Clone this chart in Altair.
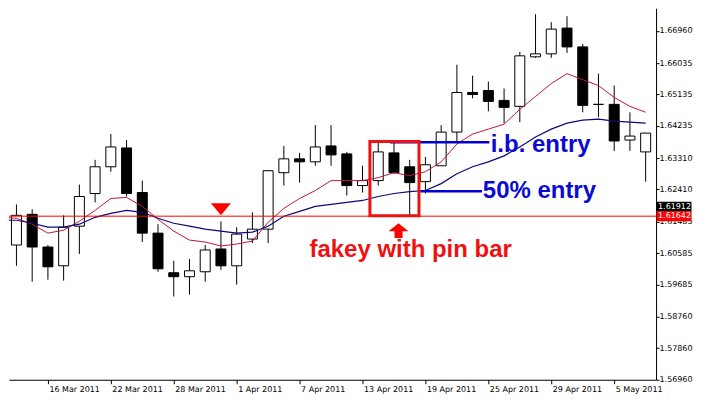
import altair as alt
import pandas as pd

# ---- candle data (bar index k = 0 .. 40, 14 Mar 2011 .. 9 May 2011) ----
opens = [1.60815, 1.61696, 1.60758, 1.60219, 1.61355, 1.62292, 1.63059, 1.63599, 1.62321, 1.61156,
         1.60020, 1.59906, 1.60048, 1.60701, 1.60219, 1.60986, 1.61270, 1.62889, 1.63287, 1.63201,
         1.63656, 1.63429, 1.62520, 1.62662, 1.63457, 1.63059, 1.62633, 1.63088, 1.64054, 1.65190,
         1.65247, 1.64963, 1.64792, 1.66213, 1.66298, 1.67037, 1.66497, 1.64849, 1.64849, 1.63826, 1.63486]
highs = [1.61980, 1.61838, 1.60815, 1.61667, 1.62548, 1.63258, 1.63997, 1.63826, 1.62662, 1.61412,
         1.60361, 1.60417, 1.60815, 1.61497, 1.61326, 1.61753, 1.62960, 1.63656, 1.63457, 1.64253,
         1.64253, 1.63486, 1.63088, 1.63798, 1.63741, 1.63258, 1.63343, 1.64253, 1.65986, 1.65673,
         1.65503, 1.65304, 1.66355, 1.67435, 1.67207, 1.67378, 1.66582, 1.65730, 1.65389, 1.64622, 1.64025]
lows = [1.60219, 1.59764, 1.59821, 1.59792, 1.60559, 1.62037, 1.62917, 1.62207, 1.60900, 1.60048,
        1.59338, 1.59395, 1.59764, 1.60105, 1.59679, 1.60872, 1.60872, 1.62520, 1.62605, 1.63088,
        1.63088, 1.62236, 1.62321, 1.62520, 1.62860, 1.61639, 1.62292, 1.63088, 1.63798, 1.65020,
        1.64650, 1.64309, 1.64338, 1.66184, 1.66184, 1.66326, 1.64622, 1.64480, 1.63513, 1.63514, 1.62633]
closes = [1.61667, 1.60758, 1.60190, 1.61326, 1.62207, 1.63059, 1.63628, 1.62292, 1.61156, 1.60133,
          1.59906, 1.60076, 1.60673, 1.60219, 1.61128, 1.61270, 1.62946, 1.63287, 1.63201, 1.63628,
          1.63400, 1.62520, 1.62662, 1.63486, 1.62889, 1.62605, 1.63116, 1.64054, 1.65190, 1.65133,
          1.64934, 1.64764, 1.66241, 1.66298, 1.67008, 1.66497, 1.64821, 1.64849, 1.63798, 1.63940, 1.64025]

# ---- moving averages (k = -1 .. 40) ----
ma_fast = [1.61610, 1.61582, 1.61412, 1.61156, 1.61241, 1.61497, 1.61809, 1.62150, 1.62179, 1.61923,
           1.61554, 1.61213, 1.60957, 1.60900, 1.60787, 1.60843, 1.60929, 1.61468, 1.61866, 1.62150,
           1.62378, 1.62662, 1.62662, 1.62662, 1.62747, 1.62889, 1.62804, 1.62917, 1.63201, 1.63713,
           1.63997, 1.64139, 1.64281, 1.64707, 1.65076, 1.65446, 1.65730, 1.65559, 1.65389, 1.65048,
           1.64792, 1.64622]
ma_slow = [1.61525, 1.61525, 1.61440, 1.61326, 1.61326, 1.61412, 1.61610, 1.61724, 1.61809, 1.61753,
           1.61582, 1.61440, 1.61355, 1.61270, 1.61213, 1.61156, 1.61184, 1.61355, 1.61639, 1.61781,
           1.61923, 1.61980, 1.62037, 1.62093, 1.62207, 1.62292, 1.62349, 1.62378, 1.62576, 1.62860,
           1.63059, 1.63201, 1.63372, 1.63628, 1.63912, 1.64139, 1.64309, 1.64395, 1.64423, 1.64366,
           1.64338, 1.64309]

# ---- axis ticks ----
date_ticks = [2, 6, 10, 14, 18, 22, 26, 30, 34, 38]
date_labels = ["16 Mar 2011", "22 Mar 2011", "28 Mar 2011", "1 Apr 2011", "7 Apr 2011",
               "13 Apr 2011", "19 Apr 2011", "25 Apr 2011", "29 Apr 2011", "5 May 2011"]
price_ticks = [1.56960, 1.57860, 1.58760, 1.59685, 1.60585, 1.61485, 1.62410,
               1.63310, 1.64235, 1.65135, 1.66035, 1.66960]

# ---- annotations ----
level_price = 1.61642
bid_price = 1.61912
ib_entry = 1.63760
half_entry = 1.62358

W, H = 648, 372
xs = alt.Scale(domain=[-0.15625, 40.34375], nice=False, zero=False)
ys = alt.Scale(domain=[1.56951, 1.67605], nice=False, zero=False)

label_arr = "[" + ",".join("'%s'" % s for s in date_labels) + "]"
xaxis = alt.Axis(values=date_ticks, labelExpr=label_arr + "[(datum.value - 2) / 4]",
                 orient="bottom", grid=False, domainColor="black", tickColor="black",
                 tickSize=4, labelAlign="left", labelBaseline="top", labelPadding=2,
                 labelOffset=1, labelFont="DejaVu Sans", labelFontSize=8, labelColor="black",
                 labelFlush=False, labelOverlap=False, title=None)
yaxis = alt.Axis(values=price_ticks, format=".5f", orient="right", grid=False,
                 domainColor="black", tickColor="black", tickSize=3, labelPadding=0,
                 labelFont="DejaVu Sans", labelFontSize=8, labelColor="black",
                 labelFlush=False, labelOverlap=False, title=None)


def X(f):
    return alt.X(f + ":Q", scale=xs, axis=xaxis, title=None)


def Y(f):
    return alt.Y(f + ":Q", scale=ys, axis=yaxis, title=None)


candles = pd.DataFrame({"k": list(range(len(opens))), "open": opens, "high": highs,
                        "low": lows, "close": closes})
ma = pd.DataFrame({"k": list(range(-1, len(ma_fast) - 1)), "fast": ma_fast, "slow": ma_slow})

wicks = alt.Chart(candles).mark_rule(color="black", strokeWidth=1).encode(
    x=X("k"), y=Y("low"), y2="high")
bodies = alt.Chart(candles).mark_bar(size=10, stroke="black", strokeWidth=1).encode(
    x=X("k"), y=Y("open"), y2="close",
    fill=alt.condition("datum.close >= datum.open", alt.value("white"), alt.value("black")))

fast_line = alt.Chart(ma).mark_line(color="#c0163a", strokeWidth=1, clip=True).encode(
    x=X("k"), y=Y("fast"))
slow_line = alt.Chart(ma).mark_line(color="#0a0a78", strokeWidth=1.2, clip=True).encode(
    x=X("k"), y=Y("slow"))

level = alt.Chart(pd.DataFrame({"p": [level_price]})).mark_rule(
    color="#ff0000", strokeWidth=1).encode(y=Y("p"))

entries = pd.DataFrame({"k": [23.75, 25.69], "k2": [30.06, 29.6], "p": [ib_entry, half_entry]})
entry_lines = alt.Chart(entries).mark_rule(color="#0000d0", strokeWidth=2.5).encode(
    x=X("k"), x2="k2", y=Y("p"))

box = alt.Chart(pd.DataFrame({"k": [22.47], "k2": [25.59], "p": [1.63784], "p2": [1.61653]})).mark_rect(
    fillOpacity=0, stroke="#ee1111", strokeWidth=3).encode(x=X("k"), x2="k2", y=Y("p"), y2="p2")

down_tri = alt.Chart(pd.DataFrame({"k": [13], "p": [1.61838]})).mark_point(
    shape="M-1,-0.6L1,-0.6L0,0.6Z", size=400, filled=True, color="#ff0000", opacity=1,
    strokeWidth=0).encode(x=X("k"), y=Y("p"))
up_arrow = alt.Chart(pd.DataFrame({"k": [24.29], "p": [1.61156]})).mark_point(
    shape="M0,-1L1,-0.2L0.4,-0.2L0.4,0.5L-0.4,0.5L-0.4,-0.2L-1,-0.2Z", size=400, filled=True,
    color="#ff0000", opacity=1, strokeWidth=0).encode(x=X("k"), y=Y("p"))

notes = pd.DataFrame({
    "k": [25.06, 30.15, 29.65],
    "p": [1.60468, 1.63471, 1.62164],
    "txt": ["fakey with pin bar", "i.b. entry", "50% entry"],
    "col": ["#ee1111", "#0a0ad0", "#0a0ad0"],
    "al": ["center", "left", "left"],
})
note_c = alt.Chart(notes[notes.al == "center"]).mark_text(
    font="Liberation Sans", fontWeight="bold", fontSize=24, align="center",
    baseline="alphabetic").encode(x=X("k"), y=Y("p"), text="txt:N",
                                  color=alt.Color("col:N", scale=None))
note_l = alt.Chart(notes[notes.al == "left"]).mark_text(
    font="Liberation Sans", fontWeight="bold", fontSize=24, align="left",
    baseline="alphabetic").encode(x=X("k"), y=Y("p"), text="txt:N",
                                  color=alt.Color("col:N", scale=None))

tags = pd.DataFrame({"p": [bid_price, level_price], "txt": ["1.61912", "1.61642"],
                     "bg": ["black", "#ff0000"], "off": [-4.5, -5.0]})
tag_bg = alt.Chart(tags).mark_tick(orient="horizontal", size=35, thickness=10, opacity=1).encode(
    x=alt.value(666), y=Y("p"), yOffset="off:Q", color=alt.Color("bg:N", scale=None))
tag_txt = alt.Chart(tags).mark_text(align="left", baseline="middle", color="white",
                                    font="DejaVu Sans", fontSize=8).encode(
    x=alt.value(650), y=Y("p"), yOffset="off:Q", text="txt:N")

chart = alt.layer(
    wicks, bodies, fast_line, slow_line, level, entry_lines, box, down_tri, up_arrow,
    note_c, note_l, tag_bg, tag_txt
).properties(width=W, height=H, padding=0, background="white").configure_view(stroke=None)

chart.save("out.html", embed_options={"renderer": "svg", "actions": False})
